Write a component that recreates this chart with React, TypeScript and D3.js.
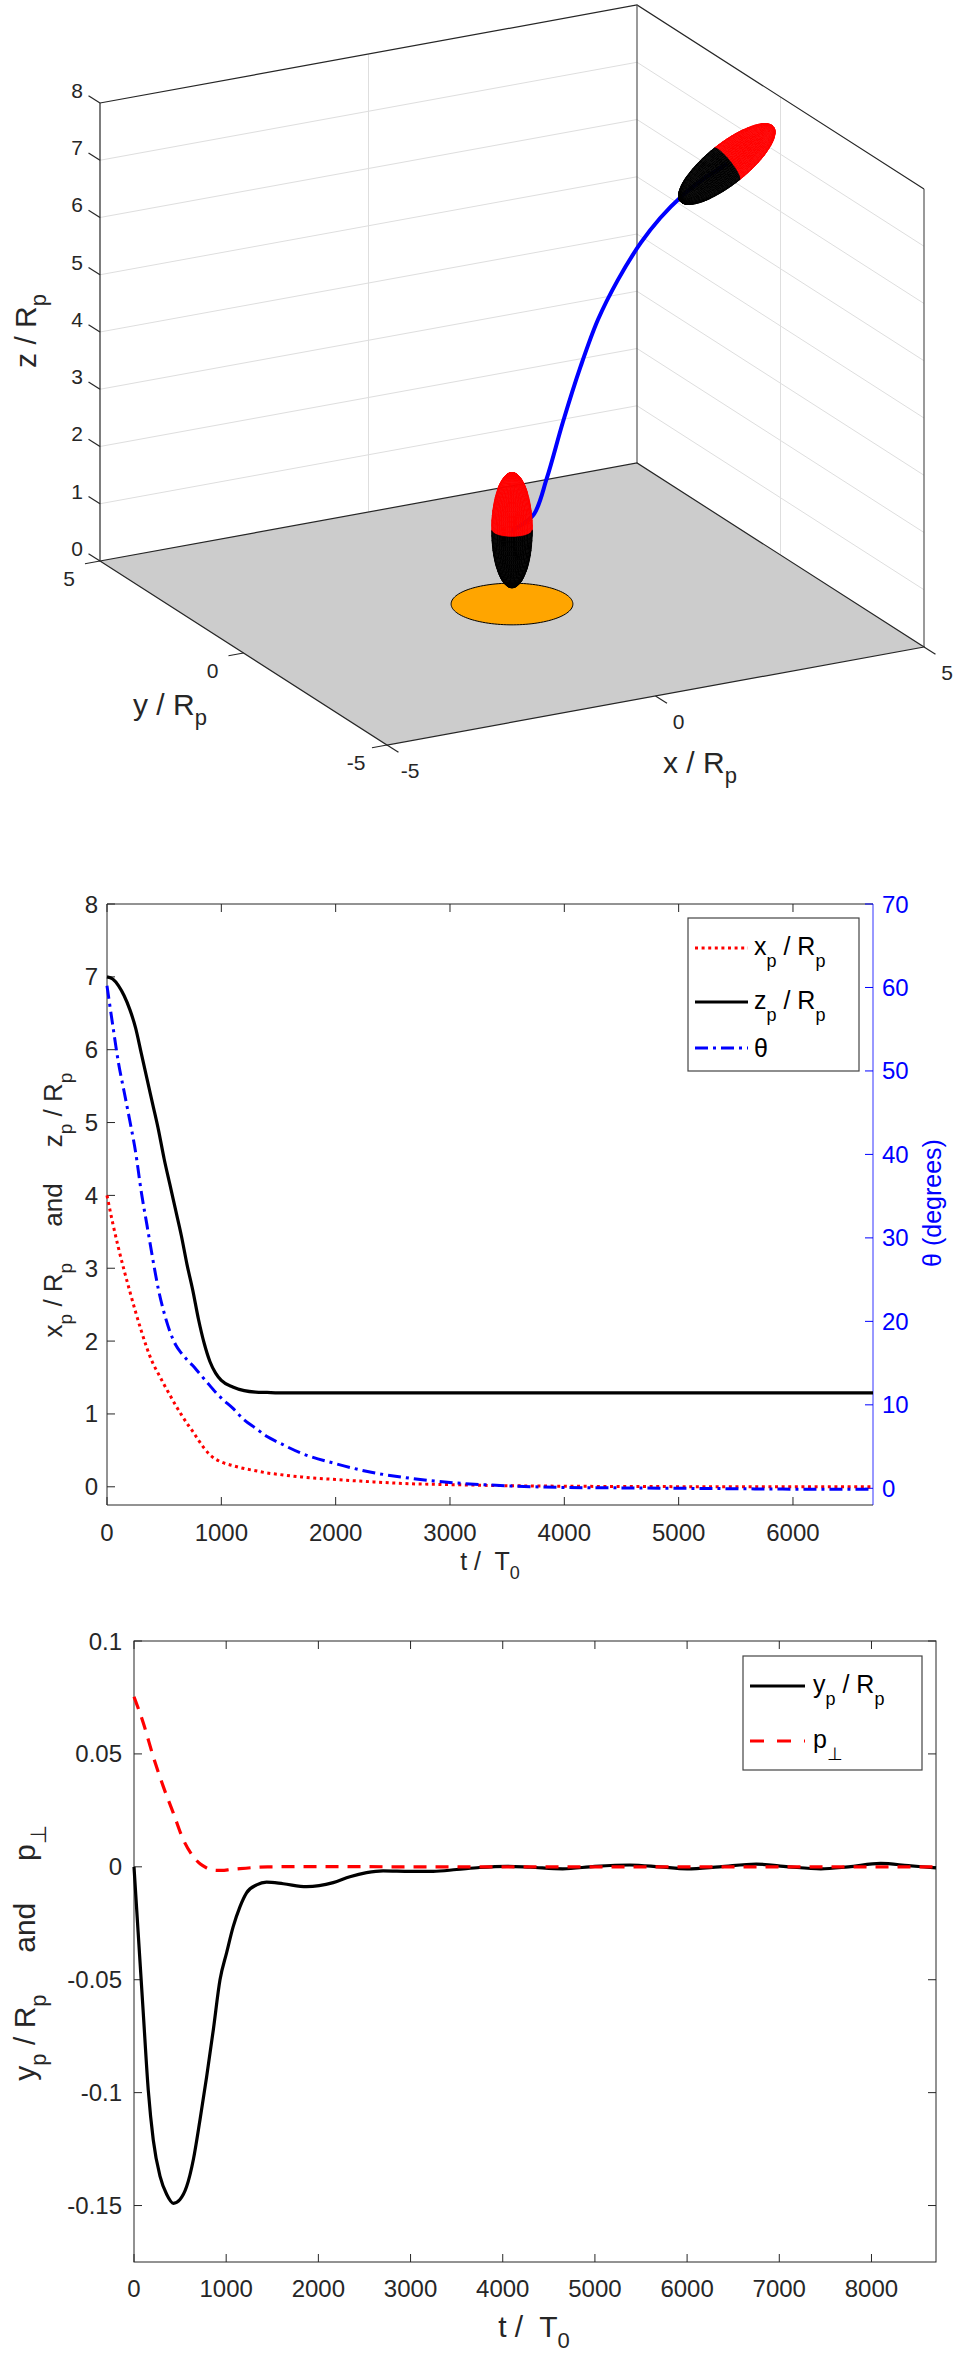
import React from "react";
import * as d3 from "d3";

const FONT = '"Liberation Sans", Arial, Helvetica, sans-serif';
const AX = "#262626";

// shared time grid for x_p, z_p and theta
const tA = [0, 50, 100, 150, 200, 250, 300, 350, 400, 450, 500, 550, 600, 650, 700, 750, 800, 850, 900, 950, 1000, 1100, 1200, 1300, 1400, 1500, 1700, 2000, 2300, 2600, 3000, 3500, 4000, 4500, 5000, 5500, 6000, 6700];
const xpA = [4.0, 3.62, 3.28, 2.97, 2.68, 2.4, 2.14, 1.9, 1.7, 1.55, 1.4, 1.26, 1.12, 0.99, 0.87, 0.76, 0.64, 0.53, 0.44, 0.38, 0.34, 0.29, 0.25, 0.22, 0.19, 0.17, 0.135, 0.1, 0.07, 0.045, 0.03, 0.015, 0.008, 0.004, 0.002, 0, 0, 0];
const zpA = [7.0, 6.97, 6.88, 6.74, 6.55, 6.3, 5.95, 5.6, 5.25, 4.9, 4.5, 4.15, 3.8, 3.45, 3.05, 2.7, 2.3, 1.97, 1.72, 1.56, 1.46, 1.37, 1.32, 1.3, 1.295, 1.29, 1.29, 1.29, 1.29, 1.29, 1.29, 1.29, 1.29, 1.29, 1.29, 1.29, 1.29, 1.29];
const thetaA = [60.2, 55.5, 51, 47.5, 44, 40.3, 35.5, 31.5, 27.5, 23.8, 21, 18.8, 17.2, 16.2, 15.4, 14.7, 13.9, 13.1, 12.3, 11.5, 10.8, 9.6, 8.2, 7.2, 6.2, 5.5, 4.2, 2.95, 1.95, 1.3, 0.7, 0.3, 0.1, 0.05, 0, -0.05, -0.1, -0.1];

// path of the body as drawn in the 3D view (x, z in R_p; y ~ 0)
const pathX = [4.0, 3.56, 3.17, 2.76, 2.4, 1.97, 1.6, 1.27, 0.95, 0.65, 0.41, 0.15, 0.0];
const pathZ = [7.0, 6.81, 6.59, 6.27, 5.9, 5.32, 4.69, 3.91, 3.02, 2.09, 1.5, 1.34, 1.29];
const startTilt = 60; // degrees from vertical
const endTilt = 0;

// lateral drift
const tY = [0, 45, 101, 155, 209, 282, 354, 427, 499, 571, 644, 716, 788, 861, 933, 1005, 1076, 1149, 1221, 1330, 1438, 1619, 1872, 2161, 2342, 2523, 2703, 3000, 3245, 3500, 3750, 4050, 4300, 4650, 5000, 5380, 5700, 6000, 6350, 6750, 7100, 7450, 7750, 8100, 8400, 8700];
const ypY = [0, -0.029, -0.065, -0.099, -0.121, -0.137, -0.145, -0.149, -0.1473, -0.1416, -0.1296, -0.112, -0.093, -0.072, -0.05, -0.038, -0.0265, -0.0177, -0.0115, -0.008, -0.0068, -0.0075, -0.0088, -0.007, -0.0044, -0.0026, -0.0018, -0.002, -0.002, -0.0012, -0.0003, 0.0002, -0.0002, -0.0009, 0.0002, 0.0008, 0, -0.0009, 0, 0.0012, 0, -0.0009, 0, 0.0015, 0.0005, -0.0005];
const tP = [0, 101, 209, 318, 427, 535, 644, 720, 789, 870, 950, 1050, 1150, 1300, 1450, 2000, 3000, 4000, 5000, 6000, 7000, 8000, 8700];
const pPerp = [0.0753, 0.0637, 0.0488, 0.0355, 0.0238, 0.012, 0.0045, 0.0012, -0.0005, -0.0015, -0.0016, -0.0012, -0.0008, -0.0003, 0, 0.0001, 0, 0, 0, 0, 0, 0, 0];

const tTicks2 = [0, 1000, 2000, 3000, 4000, 5000, 6000];
const leftTicks2 = [0, 1, 2, 3, 4, 5, 6, 7, 8];
const thetaTicks = [0, 10, 20, 30, 40, 50, 60, 70];
const tTicks3 = [0, 1000, 2000, 3000, 4000, 5000, 6000, 7000, 8000];
const yTicks3 = [-0.15, -0.1, -0.05, 0, 0.05, 0.1];
const yTickLabels3 = ["-0.15", "-0.1", "-0.05", "0", "0.05", "0.1"];

const xyTicks3d = [-5, 0, 5];
const zTicks3d = [0, 1, 2, 3, 4, 5, 6, 7, 8];
const gridZ3d = [1, 2, 3, 4, 5, 6, 7];
const diskRadius = 1;
const bodyHalfLength = 1;
const bodyHalfWidth = 1 / 3;

type Seg = [string, boolean];
function rich(segs: Seg[], fs: number, sfs: number, drop: number) {
  let cur = 0;
  return segs.map(([s, sub], i) => {
    const target = sub ? drop : 0;
    const dy = target - cur;
    cur = target;
    return (
      <tspan key={i} dy={dy} fontSize={sub ? sfs : fs}>
        {s}
      </tspan>
    );
  });
}

type V3 = [number, number, number];
const cross = (a: V3, b: V3): V3 => [a[1] * b[2] - a[2] * b[1], a[2] * b[0] - a[0] * b[2], a[0] * b[1] - a[1] * b[0]];
const dot = (a: V3, b: V3) => a[0] * b[0] + a[1] * b[1] + a[2] * b[2];

function Scene3D() {
  // screen corners of the floor: front (x=-5,y=-5), right (x=5,y=-5), left (x=-5,y=5)
  const F0 = [387, 745];
  const R0 = [924, 647];
  const L0 = [100, 561];
  const zPix = 458;

  const fx = d3.scaleLinear().domain([-5, 5]).range([0, 1]);
  const fy = d3.scaleLinear().domain([-5, 5]).range([0, 1]);
  const fz = d3.scaleLinear().domain([0, 8]).range([0, zPix]);

  const proj = (x: number, y: number, z: number): [number, number] => {
    const a = fx(x);
    const b = fy(y);
    return [
      F0[0] + a * (R0[0] - F0[0]) + b * (L0[0] - F0[0]),
      F0[1] + a * (R0[1] - F0[1]) + b * (L0[1] - F0[1]) - fz(z),
    ];
  };

  const row1: V3 = [(R0[0] - F0[0]) / 10, (L0[0] - F0[0]) / 10, 0];
  const row2: V3 = [(R0[1] - F0[1]) / 10, (L0[1] - F0[1]) / 10, -zPix / 8];
  let view = cross(row1, row2);
  if (view[2] < 0) view = [-view[0], -view[1], -view[2]];

  const seg = (a: [number, number], b: [number, number]) => `M${a[0]},${a[1]}L${b[0]},${b[1]}`;

  const bodyPatches = (c: V3, thDeg: number) => {
    const th = (thDeg * Math.PI) / 180;
    const ax: V3 = [Math.sin(th), 0, Math.cos(th)];
    const n1: V3 = [-Math.cos(th), 0, Math.sin(th)];
    const n2: V3 = [0, -1, 0];
    const A = bodyHalfLength;
    const B = bodyHalfWidth;
    const pt = (u: number, v: number) => {
      const p = [0, 1, 2].map(
        (k) => c[k] + A * Math.cos(u) * ax[k] + B * Math.sin(u) * (Math.cos(v) * n1[k] + Math.sin(v) * n2[k])
      );
      return proj(p[0], p[1], p[2]);
    };
    const NU = 36;
    const NV = 56;
    const out: { d: string; color: string }[] = [];
    for (let i = 0; i < NU; i += 1) {
      for (let j = 0; j < NV; j += 1) {
        const u0 = (i * Math.PI) / NU;
        const u1 = ((i + 1) * Math.PI) / NU;
        const v0 = (j * 2 * Math.PI) / NV;
        const v1 = ((j + 1) * 2 * Math.PI) / NV;
        const um = (u0 + u1) / 2;
        const vm = (v0 + v1) / 2;
        const nrm = [0, 1, 2].map(
          (k) => (Math.cos(um) / A) * ax[k] + (Math.sin(um) / B) * (Math.cos(vm) * n1[k] + Math.sin(vm) * n2[k])
        ) as V3;
        if (dot(nrm, view) <= 0) continue;
        const q = [pt(u0, v0), pt(u1, v0), pt(u1, v1), pt(u0, v1)];
        out.push({
          d: `M${q.map((p) => `${p[0].toFixed(2)},${p[1].toFixed(2)}`).join("L")}Z`,
          color: um < Math.PI / 2 ? "#ff0000" : "#000000",
        });
      }
    }
    return out;
  };

  const last = pathX.length - 1;
  const startBody = bodyPatches([pathX[0], 0, pathZ[0]], startTilt);
  const endBody = bodyPatches([pathX[last], 0, pathZ[last]], endTilt);

  const path = d3
    .line<number>()
    .x((i) => proj(pathX[i], 0, pathZ[i])[0])
    .y((i) => proj(pathX[i], 0, pathZ[i])[1])
    .curve(d3.curveCatmullRom)(d3.range(pathX.length));

  const disk = d3.line().curve(d3.curveLinearClosed)(
    d3.range(120).map((k) => {
      const a = (k / 120) * 2 * Math.PI;
      return proj(diskRadius * Math.cos(a), diskRadius * Math.sin(a), 0);
    })
  );

  const floor = [proj(-5, 5, 0), proj(-5, -5, 0), proj(5, -5, 0), proj(5, 5, 0)];
  const grid = "#dedede";

  return (
    <g>
      {gridZ3d.map((z) => (
        <g key={z}>
          <path d={seg(proj(-5, 5, z), proj(5, 5, z))} stroke={grid} strokeWidth={1} />
          <path d={seg(proj(5, 5, z), proj(5, -5, z))} stroke={grid} strokeWidth={1} />
        </g>
      ))}
      <path d={seg(proj(0, 5, 0), proj(0, 5, 8))} stroke={grid} strokeWidth={1} />
      <path d={seg(proj(5, 0, 0), proj(5, 0, 8))} stroke={grid} strokeWidth={1} />

      <path d={seg(proj(-5, 5, 0), proj(-5, 5, 8))} stroke={AX} strokeWidth={1.2} />
      <path d={`${seg(proj(-5, 5, 8), proj(5, 5, 8))}L${proj(5, -5, 8).join(",")}`} fill="none" stroke={AX} strokeWidth={1.2} />
      <path d={seg(proj(5, 5, 0), proj(5, 5, 8))} stroke="#555" strokeWidth={1.2} />
      <path d={seg(proj(5, -5, 0), proj(5, -5, 8))} stroke="#555" strokeWidth={1.2} />

      <path d={`M${floor.map((p) => p.join(",")).join("L")}Z`} fill="#cccccc" stroke={AX} strokeWidth={1.2} />
      <path d={disk || ""} fill="#ffa500" stroke="#000" strokeWidth={1} />

      {zTicks3d.map((z) => {
        const p = proj(-5, 5, z);
        const q = proj(-5, 5.4, z);
        const lp = proj(-5, 5.8, z);
        return (
          <g key={z}>
            <path d={seg(p, q)} stroke={AX} strokeWidth={1.2} />
            <text x={lp[0]} y={lp[1] + 2} textAnchor="middle" dominantBaseline="central" fontSize={21} fill={AX}>
              {z}
            </text>
          </g>
        );
      })}
      {xyTicks3d.map((v) => {
        const p = proj(-5, v, 0);
        const q = proj(-5.28, v, 0);
        const p2 = proj(v, -5, 0);
        const q2 = proj(v, -5.4, 0);
        return (
          <g key={v}>
            <path d={seg(p, q)} stroke={AX} strokeWidth={1.2} />
            <text x={p[0] - 31} y={p[1] + 17} textAnchor="middle" dominantBaseline="central" fontSize={21} fill={AX}>
              {v}
            </text>
            <path d={seg(p2, q2)} stroke={AX} strokeWidth={1.2} />
            <text x={p2[0] + 23} y={p2[1] + 25} textAnchor="middle" dominantBaseline="central" fontSize={21} fill={AX}>
              {v}
            </text>
          </g>
        );
      })}

      <path d={path || ""} fill="none" stroke="#0000ff" strokeWidth={4} />
      {startBody.map((p, i) => (
        <path key={`s${i}`} d={p.d} fill={p.color} stroke={p.color} strokeWidth={0.6} />
      ))}
      {endBody.map((p, i) => (
        <path key={`e${i}`} d={p.d} fill={p.color} stroke={p.color} strokeWidth={0.6} />
      ))}

      <text transform="translate(36,331) rotate(-90)" textAnchor="middle" fill={AX} style={{ whiteSpace: "pre" }}>
        {rich([["z / R", false], ["p", true]], 30, 22, 10)}
      </text>
      <text x={133} y={715} fill={AX} style={{ whiteSpace: "pre" }}>
        {rich([["y / R", false], ["p", true]], 30, 22, 10)}
      </text>
      <text x={663} y={773} fill={AX} style={{ whiteSpace: "pre" }}>
        {rich([["x / R", false], ["p", true]], 30, 22, 10)}
      </text>
    </g>
  );
}

function TrajectoryPlot() {
  const left = 107;
  const right = 873;
  const top = 904;
  const bottom = 1505;
  const x = d3.scaleLinear().domain([0, 6700]).range([left, right]);
  const yL = d3.scaleLinear().domain([-0.25, 8]).range([bottom, top]);
  const yR = d3.scaleLinear().domain([-2, 70]).range([bottom, top]);
  const idx = d3.range(tA.length);
  const mk = (vals: number[], ys: d3.ScaleLinear<number, number>) =>
    d3
      .line<number>()
      .x((i) => x(tA[i]))
      .y((i) => ys(vals[i]))
      .curve(d3.curveMonotoneX)(idx) || "";
  const tk = 8;
  const blue = "#0000ff";

  const lx0 = 695;
  const lx1 = 748;
  const rows = [948, 1002, 1048];

  return (
    <g>
      <path d={`M${left},${top}H${right}M${left},${bottom}H${right}M${left},${top}V${bottom}`} fill="none" stroke={AX} strokeWidth={1} />
      <path d={`M${right},${top}V${bottom}`} stroke={blue} strokeWidth={1} opacity={0.8} />
      {tTicks2.map((t) => (
        <g key={t}>
          <path d={`M${x(t)},${bottom}v${-tk}M${x(t)},${top}v${tk}`} stroke={AX} strokeWidth={1} />
          <text x={x(t)} y={1541} textAnchor="middle" fontSize={24} fill={AX}>
            {t}
          </text>
        </g>
      ))}
      {leftTicks2.map((v) => (
        <g key={v}>
          <path d={`M${left},${yL(v)}h${tk}`} stroke={AX} strokeWidth={1} />
          <text x={98} y={yL(v)} textAnchor="end" dominantBaseline="central" fontSize={24} fill={AX}>
            {v}
          </text>
        </g>
      ))}
      {thetaTicks.map((v) => (
        <g key={v}>
          <path d={`M${right},${yR(v)}h${-tk}`} stroke={blue} strokeWidth={1} />
          <text x={882} y={yR(v)} dominantBaseline="central" fontSize={24} fill={blue}>
            {v}
          </text>
        </g>
      ))}

      <path d={mk(xpA, yL)} fill="none" stroke="#ff0000" strokeWidth={3} strokeDasharray="3 3.6" />
      <path d={mk(zpA, yL)} fill="none" stroke="#000" strokeWidth={3.2} />
      <path d={mk(thetaA, yR)} fill="none" stroke={blue} strokeWidth={3} strokeDasharray="13 5 3 5" />

      <text x={490} y={1570} textAnchor="middle" fill={AX} style={{ whiteSpace: "pre" }}>
        {rich([["t /  T", false], ["0", true]], 25, 18, 9)}
      </text>
      <text transform="translate(62,1205) rotate(-90)" textAnchor="middle" fill={AX} style={{ whiteSpace: "pre" }}>
        {rich(
          [
            ["x", false],
            ["p", true],
            [" / R", false],
            ["p", true],
            ["     and     z", false],
            ["p", true],
            [" / R", false],
            ["p", true],
          ],
          26,
          19,
          10
        )}
      </text>
      <text transform="translate(941,1203) rotate(-90)" textAnchor="middle" fontSize={25} fill={blue}>
        θ (degrees)
      </text>

      <rect x={688} y={918} width={171} height={153} fill="#fff" stroke="#444" strokeWidth={1.2} />
      <path d={`M${lx0},${rows[0]}H${lx1}`} stroke="#ff0000" strokeWidth={3} strokeDasharray="3 3.6" />
      <path d={`M${lx0},${rows[1]}H${lx1}`} stroke="#000" strokeWidth={3.2} />
      <path d={`M${lx0},${rows[2]}H${lx1}`} stroke={blue} strokeWidth={3} strokeDasharray="13 5 3 5" />
      <text x={754} y={rows[0] + 7} fill="#000" style={{ whiteSpace: "pre" }}>
        {rich([["x", false], ["p", true], [" / R", false], ["p", true]], 25, 18, 12)}
      </text>
      <text x={754} y={rows[1] + 7} fill="#000" style={{ whiteSpace: "pre" }}>
        {rich([["z", false], ["p", true], [" / R", false], ["p", true]], 25, 18, 12)}
      </text>
      <text x={754} y={rows[2] + 9} fontSize={25} fill="#000">
        θ
      </text>
    </g>
  );
}

function LateralPlot() {
  const left = 134;
  const right = 936;
  const top = 1641;
  const bottom = 2262;
  const x = d3.scaleLinear().domain([0, 8700]).range([left, right]);
  const y = d3.scaleLinear().domain([-0.175, 0.1]).range([bottom, top]);
  const tk = 8;
  const yLine =
    d3
      .line<number>()
      .x((i) => x(tY[i]))
      .y((i) => y(ypY[i]))
      .curve(d3.curveMonotoneX)(d3.range(tY.length)) || "";
  const pLine =
    d3
      .line<number>()
      .x((i) => x(tP[i]))
      .y((i) => y(pPerp[i]))
      .curve(d3.curveMonotoneX)(d3.range(tP.length)) || "";

  return (
    <g>
      <rect x={left} y={top} width={right - left} height={bottom - top} fill="none" stroke={AX} strokeWidth={1} />
      {tTicks3.map((t) => (
        <g key={t}>
          <path d={`M${x(t)},${bottom}v${-tk}M${x(t)},${top}v${tk}`} stroke={AX} strokeWidth={1} />
          <text x={x(t)} y={2297} textAnchor="middle" fontSize={24} fill={AX}>
            {t}
          </text>
        </g>
      ))}
      {yTicks3.map((v, i) => (
        <g key={v}>
          <path d={`M${left},${y(v)}h${tk}M${right},${y(v)}h${-tk}`} stroke={AX} strokeWidth={1} />
          <text x={122} y={y(v)} textAnchor="end" dominantBaseline="central" fontSize={24} fill={AX}>
            {yTickLabels3[i]}
          </text>
        </g>
      ))}

      <path d={yLine} fill="none" stroke="#000" strokeWidth={3.2} />
      <path d={pLine} fill="none" stroke="#ff0000" strokeWidth={3.2} strokeDasharray="13 9" />

      <text x={534} y={2337} textAnchor="middle" fill={AX} style={{ whiteSpace: "pre" }}>
        {rich([["t /  T", false], ["0", true]], 30, 22, 11)}
      </text>
      <text transform="translate(35,1953) rotate(-90)" textAnchor="middle" fill={AX} style={{ whiteSpace: "pre" }}>
        {rich(
          [
            ["y", false],
            ["p", true],
            [" / R", false],
            ["p", true],
            ["     and     p", false],
            ["\u22a5", true],
          ],
          30,
          22,
          11
        )}
      </text>

      <rect x={743} y={1656} width={179} height={114} fill="#fff" stroke="#444" strokeWidth={1.2} />
      <path d="M750,1686H805" stroke="#000" strokeWidth={3.2} />
      <path d="M750,1741H805" stroke="#ff0000" strokeWidth={3.2} strokeDasharray="14 13" />
      <text x={813} y={1693} fill="#000" style={{ whiteSpace: "pre" }}>
        {rich([["y", false], ["p", true], [" / R", false], ["p", true]], 25, 18, 12)}
      </text>
      <text x={813} y={1748} fill="#000" style={{ whiteSpace: "pre" }}>
        {rich([["p", false], ["\u22a5", true]], 25, 18, 12)}
      </text>
    </g>
  );
}

export default function App() {
  return (
    <svg
      width={957}
      height={2357}
      viewBox="0 0 957 2357"
      fontFamily={FONT}
      style={{ position: "absolute", left: 0, top: 0, background: "#fff" }}
    >
      <rect width={957} height={2357} fill="#fff" />
      <Scene3D />
      <TrajectoryPlot />
      <LateralPlot />
    </svg>
  );
}
